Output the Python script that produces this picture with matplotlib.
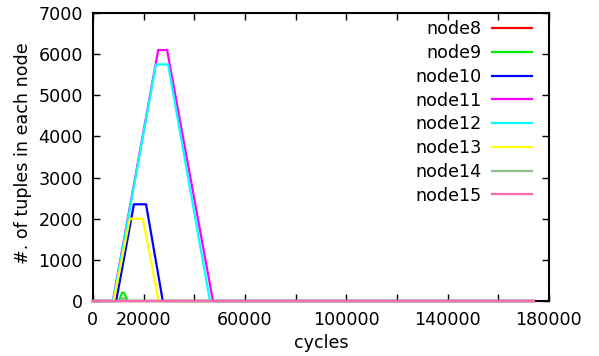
import matplotlib
matplotlib.use("Agg")
import matplotlib.pyplot as plt

plt.rcParams['font.family'] = ['DejaVu Sans']

x_end = 174000
node8_x = [0, x_end]
node8_y = [0, 0]
node9_x = [0, 10300, 11500, 12300, 13800, x_end]
node9_y = [0, 0, 200, 200, 0, 0]
node10_x = [0, 9200, 16200, 21000, 27600, x_end]
node10_y = [0, 0, 2350, 2350, 0, 0]
node11_x = [0, 7900, 25800, 29300, 47400, x_end]
node11_y = [0, 0, 6100, 6100, 0, 0]
node12_x = [0, 8000, 24900, 29700, 46200, x_end]
node12_y = [0, 0, 5750, 5750, 0, 0]
node13_x = [0, 8200, 14600, 19700, 26000, x_end]
node13_y = [0, 0, 2000, 2000, 0, 0]
node14_x = [0, 10800, 12000, 13300, x_end]
node14_y = [0, 0, 80, 0, 0]
node15_x = [0, x_end]
node15_y = [0, 0]

series = [
    ("node8", node8_x, node8_y, "#ff0000"),
    ("node9", node9_x, node9_y, "#00ee00"),
    ("node10", node10_x, node10_y, "#0000ff"),
    ("node11", node11_x, node11_y, "#ff00ff"),
    ("node12", node12_x, node12_y, "#00ffff"),
    ("node13", node13_x, node13_y, "#ffff00"),
    ("node14", node14_x, node14_y, "#8fbc8f"),
    ("node15", node15_x, node15_y, "#ff69b4"),
]

xticks = [0, 20000, 40000, 60000, 80000, 100000, 120000, 140000, 160000, 180000]
xtick_labels = ["0", "20000", "", "60000", "", "100000", "", "140000", "", "180000"]
yticks = [0, 1000, 2000, 3000, 4000, 5000, 6000, 7000]

FS = 12.6

fig = plt.figure(figsize=(5.99, 3.56), dpi=100)
ax = fig.add_axes([0.155, 0.1545, 0.7615, 0.809])

for name, xs, ys, c in series:
    ax.plot(xs, ys, color=c, lw=1.6, label=name, clip_on=False, zorder=3)

ax.set_xlim(0, 180000)
ax.set_ylim(0, 7000)
ax.set_xticks(xticks)
ax.set_xticklabels(xtick_labels)
ax.set_yticks(yticks)
ax.tick_params(direction='in', top=True, right=True, length=5, width=1,
               labelsize=FS, pad=7)
for s in ax.spines.values():
    s.set_linewidth(1.5)
ax.set_xlabel("cycles", fontsize=FS, labelpad=3.5)
ax.set_ylabel("#. of tuples in each node", fontsize=FS)
ax.yaxis.set_label_coords(-0.134, 0.513)

leg = ax.legend(loc='upper right', bbox_to_anchor=(0.963, 0.975), frameon=False,
                markerfirst=False, fontsize=FS, handlelength=2.27, handletextpad=0.62,
                labelspacing=0.33, borderaxespad=0, borderpad=0)

fig.savefig("out.png", dpi=100)
